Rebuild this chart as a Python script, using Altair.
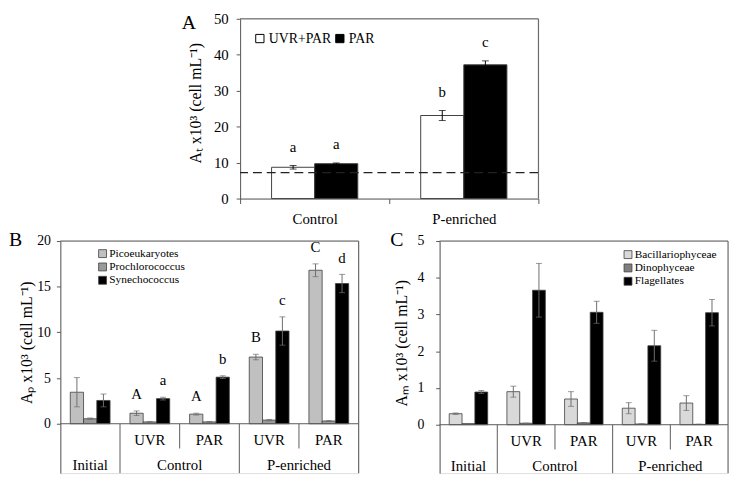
import altair as alt
import pandas as pd

FONT = "Liberation Serif"
FRAME = "#595959"
BAR_STROKE = "#404040"
ERR_GRAY = "#6e6e6e"

# ---------------- Panel A data ----------------
a_groups = ["Control", "P-enriched"]
a_treats = ["UVR+PAR", "PAR"]
a_uvrpar_mean = [8.7, 23.1]
a_uvrpar_err = [0.5, 1.4]
a_par_mean = [9.7, 37.2]
a_par_err = [0.2, 1.1]
a_uvrpar_letters = ["a", "b"]
a_par_letters = ["a", "c"]
a_initial_level = 7.2
a_ticks = [0, 10, 20, 30, 40, 50]

# ---------------- Panels B / C shared categories ----------------
conds = ["Initial", "Control UVR", "Control PAR", "P-enriched UVR", "P-enriched PAR"]
cond_sub = ["", "UVR", "PAR", "UVR", "PAR"]

# ---------------- Panel B data ----------------
b_taxa = ["Picoeukaryotes", "Prochlorococcus", "Synechococcus"]
b_colors = ["#c0c0c0", "#9a9a9a", "#000000"]
b_pico_mean = [3.45, 1.15, 1.05, 7.3, 16.8]
b_pico_err = [1.6, 0.25, 0.1, 0.3, 0.7]
b_proch_mean = [0.55, 0.2, 0.2, 0.4, 0.3]
b_proch_err = [0.08, 0.05, 0.05, 0.07, 0.05]
b_syn_mean = [2.55, 2.75, 5.1, 10.15, 15.35]
b_syn_err = [0.7, 0.15, 0.15, 1.55, 1.0]
b_pico_letters = ["", "A", "A", "B", "C"]
b_syn_letters = ["", "a", "b", "c", "d"]
b_ticks = [0, 5, 10, 15, 20]

# ---------------- Panel C data ----------------
c_taxa = ["Bacillariophyceae", "Dinophyceae", "Flagellates"]
c_colors = ["#d9d9d9", "#7f7f7f", "#000000"]
c_bac_mean = [0.30, 0.90, 0.70, 0.45, 0.59]
c_bac_err = [0.02, 0.15, 0.20, 0.15, 0.20]
c_dino_mean = [0.03, 0.04, 0.05, 0.02, 0.01]
c_dino_err = [0.005, 0.005, 0.01, 0.005, 0.005]
c_flag_mean = [0.89, 3.66, 3.06, 2.15, 3.05]
c_flag_err = [0.04, 0.73, 0.30, 0.42, 0.36]
c_ticks = [0, 1, 2, 3, 4, 5]


def make_rows(groups, series_names, means, errs, letters):
    rows = []
    for s, m, e, l in zip(series_names, means, errs, letters):
        for g, mv, ev, lv in zip(groups, m, e, l):
            rows.append({"cat": g, "series": s, "mean": mv,
                         "lo": mv - ev, "hi": mv + ev, "letter": lv})
    return pd.DataFrame(rows)


one = pd.DataFrame({"d": [0]})
NO_VIEW = alt.ViewBackground(stroke="transparent", strokeWidth=0, fill="transparent")

# =============== Panel A ===============
dfA = make_rows(a_groups, a_treats, [a_uvrpar_mean, a_par_mean],
                [a_uvrpar_err, a_par_err], [a_uvrpar_letters, a_par_letters])
A_W, A_H = 302, 182
titleA = "Aₜ x10³ (cell mL⁻¹)"
a_scale_y = alt.Scale(domain=[0, 50], nice=False)
a_axis_y = alt.Axis(values=a_ticks, title=titleA, titleFont=FONT, titleFontSize=16,
                    titleFontWeight="normal", titleColor="black", titlePadding=10, titleY=85,
                    labelFont=FONT, labelFontSize=15, labelColor="black", labelPadding=8,
                    labelOverlap=False, tickSize=4, tickColor=FRAME, domainColor=FRAME, grid=False)


def ya(field):
    return alt.Y(field, type="quantitative", scale=a_scale_y, axis=a_axis_y, title=titleA)


xa_scale = alt.Scale(domain=a_groups, paddingInner=0, paddingOuter=0)
xa_axis = alt.Axis(title=None, labelFont=FONT, labelFontSize=15, labelColor="black",
                   labelAngle=0, tickBand="extent", tickSize=5, labelPadding=8,
                   tickColor=FRAME, domainColor=FRAME)
xa = alt.X("cat:N", sort=a_groups, scale=xa_scale, axis=xa_axis)
xoa = alt.XOffset("series:N", sort=a_treats,
                  scale=alt.Scale(domain=a_treats, paddingInner=0, paddingOuter=0.73))

a_bars = alt.Chart(dfA).mark_bar(stroke=BAR_STROKE, strokeWidth=1).encode(
    x=xa, xOffset=xoa, y=ya("mean"),
    fill=alt.Fill("series:N", sort=a_treats,
                  scale=alt.Scale(domain=a_treats, range=["#ffffff", "#000000"]),
                  legend=alt.Legend(orient="none", legendX=13, legendY=13, direction="horizontal",
                                    title=None, symbolType="square", symbolSize=70,
                                    symbolStrokeColor="black", symbolStrokeWidth=1,
                                    labelFont=FONT, labelFontSize=14, labelColor="black",
                                    labelOffset=2, columnPadding=1, padding=0)))
a_err = alt.Chart(dfA).mark_rule(color="black", strokeWidth=1).encode(
    x=xa, xOffset=xoa, y=ya("lo"), y2="hi:Q")
a_cap_hi = alt.Chart(dfA).mark_tick(color="black", thickness=1, size=7, orient="horizontal").encode(
    x=xa, xOffset=xoa, y=ya("hi"))
a_cap_lo = alt.Chart(dfA).mark_tick(color="black", thickness=1, size=7, orient="horizontal").encode(
    x=xa, xOffset=xoa, y=ya("lo"))
a_letters = alt.Chart(dfA).mark_text(font=FONT, fontSize=15, baseline="bottom", dy=-11).encode(
    x=xa, xOffset=xoa, y=ya("hi"), text="letter:N")
a_dash = alt.Chart(pd.DataFrame({"v": [a_initial_level]})).mark_rule(
    color="#222222", strokeWidth=1.3, strokeDash=[9, 5]).encode(y=ya("v"))
a_top = alt.Chart(pd.DataFrame({"v": [a_ticks[-1]]})).mark_rule(color=FRAME).encode(y=ya("v"))
a_right = alt.Chart(pd.DataFrame({"cat": [a_groups[-1]], "lo": [a_ticks[0]], "hi": [a_ticks[-1]]})
                    ).mark_rule(color=FRAME).encode(
    x=alt.X("cat:N", sort=a_groups, scale=xa_scale, axis=xa_axis, bandPosition=1),
    y=ya("lo"), y2="hi:Q")
a_letter = alt.Chart(one).mark_text(text="A", font=FONT, fontSize=20, align="left",
                                    baseline="top").encode(x=alt.value(-59), y=alt.value(-6))

chartA = alt.layer(a_bars, a_err, a_cap_hi, a_cap_lo, a_letters, a_dash, a_top, a_right,
                   a_letter).properties(width=A_W, height=A_H)


# =============== Panels B / C ===============
def taxon_panel(taxa, colors, means, errs, letters, ymax, ticks, W, H, zero_px,
                title, letter, letter_x, legend_xy, label_pad, title_pad):
    df = make_rows(conds, taxa, means, errs, letters)
    ppu = (H - zero_px) / ymax          # pixels per unit
    ymin = -zero_px / ppu
    ysc = alt.Scale(domain=[ymin, ymax], nice=False, zero=False)
    yax = alt.Axis(values=ticks, title=title, titleFont=FONT, titleFontSize=16,
                   titleFontWeight="normal", titleColor="black", titlePadding=title_pad,
                   titleY=(H - zero_px) / 2 + 10,
                   labelFont=FONT, labelFontSize=14, labelColor="black", labelPadding=label_pad,
                   labelOverlap=False, tickSize=4, tickColor=FRAME, domainColor=FRAME, grid=False)

    def yy(field):
        return alt.Y(field, type="quantitative", scale=ysc, axis=yax, title=title)

    xsc = alt.Scale(domain=conds, paddingInner=0, paddingOuter=0)

    def xx(bp=None):
        if bp is None:
            return alt.X("cat:N", sort=conds, scale=xsc, axis=None)
        return alt.X("cat:N", sort=conds, scale=xsc, axis=None, bandPosition=bp)

    xo = alt.XOffset("series:N", sort=taxa,
                     scale=alt.Scale(domain=taxa, paddingInner=0, paddingOuter=0.75))

    bars = alt.Chart(df).mark_bar(stroke=BAR_STROKE, strokeWidth=0.8).encode(
        x=xx(), xOffset=xo, y=yy("mean"),
        fill=alt.Fill("series:N", sort=taxa, scale=alt.Scale(domain=taxa, range=colors),
                      legend=alt.Legend(orient="none", legendX=legend_xy[0], legendY=legend_xy[1],
                                        title=None, symbolType="square", symbolSize=64,
                                        symbolStrokeColor=BAR_STROKE, symbolStrokeWidth=0.8,
                                        labelFont=FONT, labelFontSize=11.5, labelColor="black",
                                        labelOffset=1, rowPadding=0.5, padding=0)))
    err = alt.Chart(df).mark_rule(color=ERR_GRAY, strokeWidth=1).encode(
        x=xx(), xOffset=xo, y=yy("lo"), y2="hi:Q")
    cap_hi = alt.Chart(df).mark_tick(color=ERR_GRAY, thickness=1, size=6, orient="horizontal").encode(
        x=xx(), xOffset=xo, y=yy("hi"))
    cap_lo = alt.Chart(df).mark_tick(color=ERR_GRAY, thickness=1, size=6, orient="horizontal").encode(
        x=xx(), xOffset=xo, y=yy("lo"))
    lets = alt.Chart(df).mark_text(font=FONT, fontSize=15, baseline="bottom", dy=-9).encode(
        x=xx(), xOffset=xo, y=yy("hi"), text="letter:N")

    short_end = -25 / ppu
    zero_line = alt.Chart(pd.DataFrame({"v": [0]})).mark_rule(color=FRAME).encode(y=yy("v"))
    top_line = alt.Chart(pd.DataFrame({"v": [ymax]})).mark_rule(color=FRAME).encode(y=yy("v"))
    long_sep = alt.Chart(pd.DataFrame({"cat": [conds[1], conds[3]], "lo": [ymin, ymin], "hi": [0, 0]})
                         ).mark_rule(color=FRAME).encode(x=xx(0), y=yy("lo"), y2="hi:Q")
    short_sep = alt.Chart(pd.DataFrame({"cat": [conds[2], conds[4]], "lo": [short_end] * 2,
                                        "hi": [0, 0]})
                          ).mark_rule(color=FRAME).encode(x=xx(0), y=yy("lo"), y2="hi:Q")
    right_edge = alt.Chart(pd.DataFrame({"cat": [conds[-1]], "lo": [ymin], "hi": [ymax]})
                           ).mark_rule(color=FRAME).encode(x=xx(1), y=yy("lo"), y2="hi:Q")

    y0 = H - zero_px
    sub = alt.Chart(pd.DataFrame({"cat": conds, "lab": cond_sub})).mark_text(
        font=FONT, fontSize=15, baseline="middle").encode(
        x=xx(), y=alt.value(y0 + 17), text="lab:N")
    grp_center = alt.Chart(pd.DataFrame({"cat": [conds[0]], "lab": ["Initial"]})).mark_text(
        font=FONT, fontSize=15, baseline="middle").encode(
        x=xx(), y=alt.value(y0 + 42), text="lab:N")
    grp_pair = alt.Chart(pd.DataFrame({"cat": [conds[2], conds[4]],
                                       "lab": ["Control", "P-enriched"]})).mark_text(
        font=FONT, fontSize=15, baseline="middle").encode(
        x=xx(0), y=alt.value(y0 + 42), text="lab:N")
    plet = alt.Chart(one).mark_text(text=letter, font=FONT, fontSize=20, align="left",
                                    baseline="top").encode(x=alt.value(letter_x), y=alt.value(-11))

    return alt.layer(bars, err, cap_hi, cap_lo, lets, zero_line, top_line, long_sep,
                     short_sep, right_edge, sub, grp_center, grp_pair, plet).properties(
        width=W, height=H)


chartB = taxon_panel(b_taxa, b_colors, [b_pico_mean, b_proch_mean, b_syn_mean],
                     [b_pico_err, b_proch_err, b_syn_err],
                     [b_pico_letters, [""] * 5, b_syn_letters],
                     20, b_ticks, 302, 235, 50, "Aₚ x10³ (cell mL⁻¹)", "B", -52, (37, 7), 6, 2)
chartC = taxon_panel(c_taxa, c_colors, [c_bac_mean, c_dino_mean, c_flag_mean],
                     [c_bac_err, c_dino_err, c_flag_err],
                     [[""] * 5, [""] * 5, [""] * 5],
                     5, c_ticks, 292, 235, 49, "Aₘ x10³ (cell mL⁻¹)", "C", -50, (185, 8), 12, 8)

spacer = alt.Chart(one).mark_point(opacity=0, size=1).encode(
    x=alt.value(0), y=alt.value(0)).properties(width=122, height=1, view=NO_VIEW)

top_row = alt.hconcat(spacer, chartA, spacing=0).resolve_scale(
    color="independent", fill="independent", xOffset="independent")
bottom_row = alt.hconcat(chartB, chartC, spacing=30).resolve_scale(
    color="independent", fill="independent", xOffset="independent")

chart = alt.vconcat(top_row, bottom_row, spacing=2).resolve_scale(
    color="independent", fill="independent", xOffset="independent").properties(
    padding={"left": 0, "top": 0, "right": 0, "bottom": 0}
).configure_view(stroke="transparent", strokeWidth=0).configure_legend(
    labelFont=FONT, labelFontSize=12
).configure_axis(labelFont=FONT, titleFont=FONT).configure_text(font=FONT).configure(
    background="white")

chart.save("out.html", embed_options={"renderer": "svg", "actions": False})
